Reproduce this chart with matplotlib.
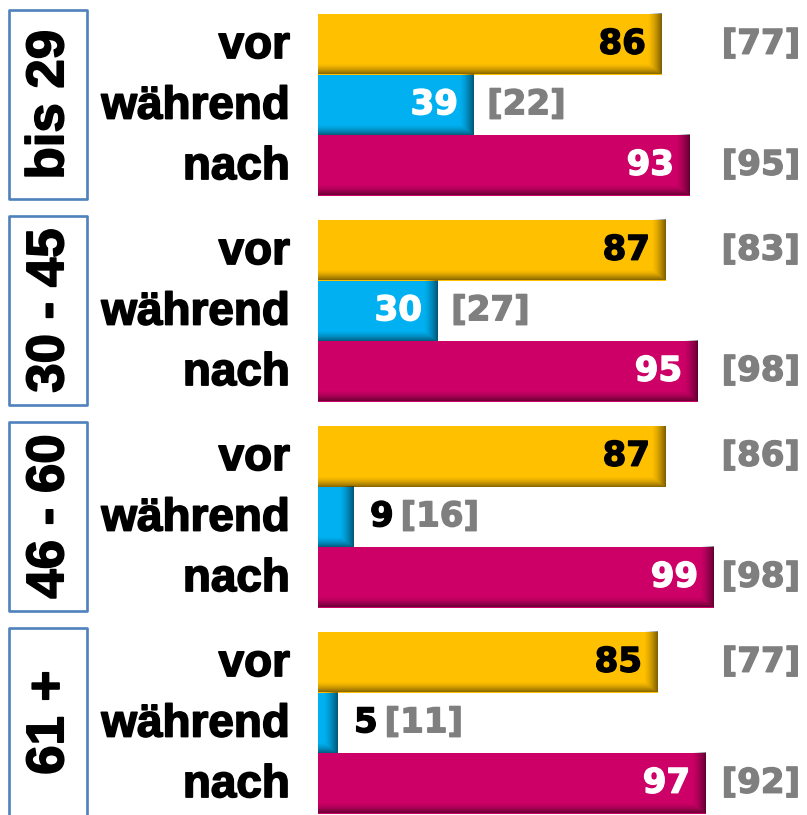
import numpy as np
import matplotlib.pyplot as plt
import matplotlib.patheffects as pe
from matplotlib.patches import Rectangle

plt.rcParams['font.family'] = ['Liberation Sans', 'DejaVu Sans']
plt.rcParams['font.weight'] = 'bold'
NUMFONT = 'DejaVu Sans'

groups = ["bis 29", "30 - 45", "46 - 60", "61 +"]
phases = ["vor", "während", "nach"]
values = [[86, 39, 93], [87, 30, 95], [87, 9, 99], [85, 5, 97]]
previous = [[77, 22, 95], [83, 27, 98], [86, 16, 98], [77, 11, 92]]

colors = ["#FFC000", "#00B0F0", "#CC0066"]
inner_text = ["black", "white", "white"]
grey = "#7F7F7F"

W, H = 807, 815
left_px = 318
px_x = 4.0          # pixels per value unit
px_y = 60.5         # pixels per bar slot
top = 14 / px_y
pitch = 206 / px_y

fig = plt.figure(figsize=(W / 100, H / 100), dpi=100)
ax = fig.add_axes([left_px / W, 0, 1 - left_px / W, 1])
ax.set_xlim(0, (W - left_px) / px_x)
ax.set_ylim(H / px_y, 0)
ax.axis("off")


def fat(color, lw=1.2):
    # thicken the strokes a little, the original font is heavier
    return [pe.withStroke(linewidth=lw, foreground=color)]


def shade(ax, val, y):
    nx = max(int(val * px_x), 2)
    ny = int(px_y)
    xs = np.arange(nx)[None, :]
    ys = np.arange(ny)[:, None]
    dr = (nx - 1 - xs) / 14.0
    db = (ny - 1 - ys) / 10.0
    a_r = 0.5 * np.clip(1 - dr, 0, 1) ** 1.5
    a_b = 0.45 * np.clip(1 - db, 0, 1) ** 1.5
    img = np.zeros((ny, nx, 4))
    img[..., 3] = np.maximum(a_r, a_b)
    ax.imshow(img, extent=(0, val, y + 0.5, y - 0.5), aspect="auto",
              interpolation="bilinear", zorder=3)


num_kw = dict(fontsize=24.5, family=NUMFONT, va="center")

for g, grp in enumerate(groups):
    for i, ph in enumerate(phases):
        y = top + 0.5 + g * pitch + i
        v = values[g][i]
        ax.barh(y, v, height=1.0, color=colors[i], zorder=2,
                edgecolor="none")
        shade(ax, v, y)
        ax.text(-7, y + 0.03, ph, ha="right", va="center", fontsize=33,
                clip_on=False, path_effects=fat("black"))
        br = "[%d]" % previous[g][i]
        if v >= 20:
            ax.text(v - 4.0, y, str(v), ha="right", color=inner_text[i],
                    zorder=4, path_effects=fat(inner_text[i], 1.0), **num_kw)
            if i == 1:
                ax.text(v + 3.3, y, br, ha="left", color=grey,
                        path_effects=fat(grey, 1.0), **num_kw)
            else:
                ax.text(120.5, y, br, ha="right", color=grey,
                        path_effects=fat(grey, 1.0), **num_kw)
        else:
            t = ax.text(v + 4.0, y, str(v), ha="left", color="black",
                        path_effects=fat("black", 1.0), **num_kw)
            ax.annotate(br, xy=(1, 0.5), xycoords=t, xytext=(5, 0),
                        textcoords="offset points", ha="left", color=grey,
                        path_effects=fat(grey, 1.0), **num_kw)

    yc = top + 0.5 + g * pitch + 1
    x0 = (9 - left_px) / px_x
    x1 = (87 - left_px) / px_x
    hh = 94.5 / px_y
    box = Rectangle((x0, yc - hh), x1 - x0, 2 * hh, facecolor="white",
                    edgecolor="#4F81BD", linewidth=1.9, clip_on=False,
                    joinstyle="round")
    ax.add_patch(box)
    ax.text((x0 + x1) / 2 + 0.3, yc, grp, rotation=90, ha="center",
            va="center", fontsize=38, clip_on=False,
            path_effects=fat("black"))

fig.savefig("out.png", dpi=100)
